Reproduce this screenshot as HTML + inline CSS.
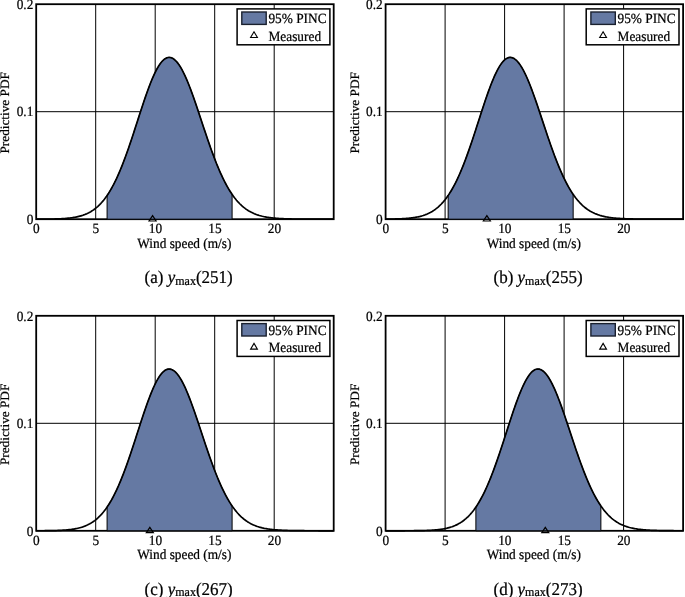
<!DOCTYPE html>
<html><head><meta charset="utf-8"><title>Predictive PDF</title>
<style>html,body{margin:0;padding:0;background:#fff;}body{width:685px;height:597px;overflow:hidden;}svg{display:block;will-change:transform;}text{font-family:"Liberation Serif",serif;fill:#000;text-rendering:geometricPrecision;}</style>
</head><body>
<svg width="685" height="597" viewBox="0 0 685 597">
<rect x="0" y="0" width="685" height="597" fill="#fff"/>
<g>
<line x1="95.70" y1="4.20" x2="95.70" y2="219.20" stroke="#000" stroke-width="1"/>
<line x1="155.20" y1="4.20" x2="155.20" y2="219.20" stroke="#000" stroke-width="1"/>
<line x1="214.70" y1="4.20" x2="214.70" y2="219.20" stroke="#000" stroke-width="1"/>
<line x1="274.20" y1="4.20" x2="274.20" y2="219.20" stroke="#000" stroke-width="1"/>
<line x1="36.20" y1="111.70" x2="333.70" y2="111.70" stroke="#000" stroke-width="1"/>
<rect x="36.20" y="4.20" width="297.50" height="215.00" fill="none" stroke="#000" stroke-width="1.8"/>
<path d="M107.08 219.20 L107.08 195.50 L108.12 193.93 L109.16 192.29 L110.21 190.58 L111.25 188.79 L112.29 186.92 L113.33 184.97 L114.37 182.95 L115.42 180.84 L116.46 178.66 L117.50 176.41 L118.54 174.07 L119.58 171.66 L120.62 169.17 L121.67 166.61 L122.71 163.98 L123.75 161.29 L124.79 158.52 L125.83 155.69 L126.88 152.81 L127.92 149.86 L128.96 146.87 L130.00 143.82 L131.04 140.73 L132.08 137.61 L133.13 134.45 L134.17 131.27 L135.21 128.06 L136.25 124.84 L137.29 121.61 L138.34 118.39 L139.38 115.16 L140.42 111.95 L141.46 108.76 L142.50 105.60 L143.54 102.48 L144.59 99.40 L145.63 96.37 L146.67 93.40 L147.71 90.50 L148.75 87.67 L149.80 84.93 L150.84 82.28 L151.88 79.72 L152.92 77.28 L153.96 74.94 L155.00 72.73 L156.05 70.65 L157.09 68.69 L158.13 66.88 L159.17 65.21 L160.21 63.70 L161.26 62.33 L162.30 61.13 L163.34 60.09 L164.38 59.22 L165.42 58.51 L166.46 57.98 L167.51 57.62 L168.55 57.44 L169.59 57.43 L170.63 57.59 L171.67 57.91 L172.71 58.41 L173.76 59.06 L174.80 59.88 L175.84 60.86 L176.88 61.99 L177.92 63.28 L178.97 64.72 L180.01 66.30 L181.05 68.03 L182.09 69.88 L183.13 71.87 L184.17 73.98 L185.22 76.21 L186.26 78.55 L187.30 81.00 L188.34 83.54 L189.38 86.17 L190.43 88.89 L191.47 91.68 L192.51 94.54 L193.55 97.46 L194.59 100.44 L195.63 103.46 L196.68 106.52 L197.72 109.61 L198.76 112.73 L199.80 115.86 L200.84 119.01 L201.89 122.15 L202.93 125.30 L203.97 128.44 L205.01 131.56 L206.05 134.66 L207.09 137.73 L208.14 140.77 L209.18 143.77 L210.22 146.73 L211.26 149.65 L212.30 152.51 L213.35 155.33 L214.39 158.08 L215.43 160.78 L216.47 163.41 L217.51 165.97 L218.55 168.47 L219.60 170.90 L220.64 173.26 L221.68 175.55 L222.72 177.76 L223.76 179.90 L224.81 181.97 L225.85 183.96 L226.89 185.88 L227.93 187.72 L228.97 189.49 L230.01 191.19 L231.06 192.82 L232.10 194.37 L232.10 219.20 Z" fill="#6579a3" stroke="#000" stroke-width="1" stroke-linejoin="round"/>
<path d="M36.20 219.18 L37.19 219.17 L38.18 219.17 L39.18 219.16 L40.17 219.16 L41.16 219.15 L42.15 219.15 L43.14 219.14 L44.13 219.13 L45.12 219.12 L46.12 219.11 L47.11 219.10 L48.10 219.09 L49.09 219.08 L50.08 219.06 L51.08 219.05 L52.07 219.03 L53.06 219.01 L54.05 218.98 L55.04 218.96 L56.03 218.93 L57.03 218.89 L58.02 218.86 L59.01 218.82 L60.00 218.78 L60.99 218.73 L61.98 218.67 L62.98 218.62 L63.97 218.55 L64.96 218.48 L65.95 218.40 L66.94 218.32 L67.93 218.22 L68.93 218.12 L69.92 218.01 L70.91 217.89 L71.90 217.75 L72.89 217.61 L73.88 217.45 L74.88 217.28 L75.87 217.09 L76.86 216.89 L77.85 216.67 L78.84 216.43 L79.83 216.17 L80.83 215.89 L81.82 215.59 L82.81 215.27 L83.80 214.92 L84.79 214.55 L85.78 214.14 L86.78 213.71 L87.77 213.25 L88.76 212.75 L89.75 212.22 L90.74 211.66 L91.73 211.05 L92.72 210.41 L93.72 209.72 L94.71 208.99 L95.70 208.22 L96.69 207.40 L97.68 206.53 L98.67 205.60 L99.67 204.63 L100.66 203.60 L101.65 202.52 L102.64 201.37 L103.63 200.17 L104.62 198.90 L105.62 197.58 L106.61 196.19 L107.60 194.73 L108.59 193.21 L109.58 191.61 L110.58 189.95 L111.57 188.22 L112.56 186.43 L113.55 184.56 L114.54 182.61 L115.53 180.60 L116.53 178.52 L117.52 176.37 L118.51 174.14 L119.50 171.85 L120.49 169.49 L121.48 167.07 L122.47 164.58 L123.47 162.03 L124.46 159.41 L125.45 156.74 L126.44 154.01 L127.43 151.24 L128.43 148.41 L129.42 145.53 L130.41 142.62 L131.40 139.67 L132.39 136.68 L133.38 133.67 L134.38 130.63 L135.37 127.58 L136.36 124.51 L137.35 121.44 L138.34 118.37 L139.33 115.30 L140.32 112.24 L141.32 109.20 L142.31 106.19 L143.30 103.21 L144.29 100.26 L145.28 97.36 L146.28 94.52 L147.27 91.73 L148.26 89.00 L149.25 86.35 L150.24 83.78 L151.23 81.29 L152.23 78.90 L153.22 76.60 L154.21 74.41 L155.20 72.33 L156.19 70.36 L157.18 68.52 L158.18 66.81 L159.17 65.22 L160.16 63.77 L161.15 62.46 L162.14 61.30 L163.13 60.28 L164.12 59.42 L165.12 58.70 L166.11 58.14 L167.10 57.74 L168.09 57.50 L169.08 57.41 L170.07 57.48 L171.07 57.70 L172.06 58.08 L173.05 58.60 L174.04 59.27 L175.03 60.09 L176.02 61.05 L177.02 62.15 L178.01 63.39 L179.00 64.77 L179.99 66.28 L180.98 67.91 L181.98 69.67 L182.97 71.55 L183.96 73.53 L184.95 75.63 L185.94 77.83 L186.93 80.12 L187.93 82.51 L188.92 84.98 L189.91 87.53 L190.90 90.15 L191.89 92.84 L192.88 95.58 L193.88 98.38 L194.87 101.23 L195.86 104.11 L196.85 107.03 L197.84 109.98 L198.83 112.95 L199.82 115.93 L200.82 118.93 L201.81 121.92 L202.80 124.92 L203.79 127.90 L204.78 130.88 L205.77 133.83 L206.77 136.76 L207.76 139.67 L208.75 142.54 L209.74 145.38 L210.73 148.18 L211.72 150.93 L212.72 153.64 L213.71 156.29 L214.70 158.90 L215.69 161.45 L216.68 163.94 L217.68 166.37 L218.67 168.74 L219.66 171.05 L220.65 173.29 L221.64 175.47 L222.63 177.58 L223.62 179.62 L224.62 181.60 L225.61 183.51 L226.60 185.35 L227.59 187.13 L228.58 188.84 L229.57 190.48 L230.57 192.06 L231.56 193.57 L232.55 195.02 L233.54 196.41 L234.53 197.74 L235.53 199.00 L236.52 200.21 L237.51 201.36 L238.50 202.45 L239.49 203.49 L240.48 204.48 L241.47 205.42 L242.47 206.30 L243.46 207.14 L244.45 207.94 L245.44 208.69 L246.43 209.39 L247.43 210.06 L248.42 210.69 L249.41 211.28 L250.40 211.83 L251.39 212.36 L252.38 212.84 L253.38 213.30 L254.37 213.73 L255.36 214.13 L256.35 214.51 L257.34 214.86 L258.33 215.18 L259.32 215.49 L260.32 215.77 L261.31 216.03 L262.30 216.28 L263.29 216.50 L264.28 216.72 L265.28 216.91 L266.27 217.09 L267.26 217.26 L268.25 217.42 L269.24 217.56 L270.23 217.69 L271.23 217.81 L272.22 217.93 L273.21 218.03 L274.20 218.13 L275.19 218.22 L276.18 218.30 L277.18 218.37 L278.17 218.44 L279.16 218.50 L280.15 218.56 L281.14 218.61 L282.13 218.66 L283.12 218.71 L284.12 218.75 L285.11 218.79 L286.10 218.82 L287.09 218.85 L288.08 218.88 L289.07 218.91 L290.07 218.93 L291.06 218.95 L292.05 218.98 L293.04 218.99 L294.03 219.01 L295.02 219.03 L296.02 219.04 L297.01 219.05 L298.00 219.07 L298.99 219.08 L299.98 219.09 L300.97 219.10 L301.97 219.10 L302.96 219.11 L303.95 219.12 L304.94 219.13 L305.93 219.13 L306.93 219.14 L307.92 219.14 L308.91 219.15 L309.90 219.15 L310.89 219.16 L311.88 219.16 L312.88 219.16 L313.87 219.16 L314.86 219.17 L315.85 219.17 L316.84 219.17 L317.83 219.17 L318.82 219.18 L319.82 219.18 L320.81 219.18 L321.80 219.18 L322.79 219.18 L323.78 219.18 L324.77 219.19 L325.77 219.19 L326.76 219.19 L327.75 219.19 L328.74 219.19 L329.73 219.19 L330.72 219.19 L331.72 219.19 L332.71 219.19 L333.70 219.19" fill="none" stroke="#000" stroke-width="1.7" stroke-linejoin="round"/>
<path d="M152.58 215.70 L156.08 221.00 L149.08 221.00 Z" fill="none" stroke="#000" stroke-width="1.2"/>
<text transform="translate(33.30 8.90) scale(1.025 1.085)" font-size="13" text-anchor="end" stroke="#000" stroke-width="0.22">0.2</text>
<text transform="translate(33.30 116.40) scale(1.025 1.085)" font-size="13" text-anchor="end" stroke="#000" stroke-width="0.22">0.1</text>
<text transform="translate(33.30 223.90) scale(1.025 1.085)" font-size="13" text-anchor="end" stroke="#000" stroke-width="0.22">0</text>
<text transform="translate(36.40 233.00) scale(1.025 1.085)" font-size="13" text-anchor="middle" stroke="#000" stroke-width="0.22">0</text>
<text transform="translate(95.90 233.00) scale(1.025 1.085)" font-size="13" text-anchor="middle" stroke="#000" stroke-width="0.22">5</text>
<text transform="translate(155.40 233.00) scale(1.025 1.085)" font-size="13" text-anchor="middle" stroke="#000" stroke-width="0.22">10</text>
<text transform="translate(214.90 233.00) scale(1.025 1.085)" font-size="13" text-anchor="middle" stroke="#000" stroke-width="0.22">15</text>
<text transform="translate(274.40 233.00) scale(1.025 1.085)" font-size="13" text-anchor="middle" stroke="#000" stroke-width="0.22">20</text>
<text transform="translate(184.35 247.70) scale(1.025 1.085)" font-size="13" text-anchor="middle" stroke="#000" stroke-width="0.22">Wind speed (m/s)</text>
<text transform="translate(9.30 112.80) rotate(-90) scale(1.02 0.99)" font-size="13" text-anchor="middle" stroke="#000" stroke-width="0.22">Predictive PDF</text>
<rect x="237.10" y="8.90" width="92.8" height="35.9" fill="#fff" stroke="#000" stroke-width="1.5"/>
<rect x="241.80" y="12.00" width="24.4" height="12.4" fill="#6579a3" stroke="#1a202e" stroke-width="1.4"/>
<text transform="translate(268.40 23.40) scale(1.025 1.085)" font-size="13" text-anchor="start" stroke="#000" stroke-width="0.22">95% PINC</text>
<path d="M254.00 31.80 L257.40 37.50 L250.60 37.50 Z" fill="#fff" stroke="#000" stroke-width="1.1"/>
<text transform="translate(268.50 40.60) scale(1.025 1.085)" font-size="13" text-anchor="start" stroke="#000" stroke-width="0.22">Measured</text>
<text transform="translate(188.65 283.10) scale(1.0 1.06)" font-size="17" text-anchor="middle" stroke="#000" stroke-width="0.22">(a) <tspan font-style="italic">y</tspan><tspan font-size="12" dy="1.5">max</tspan><tspan dy="-1.5">(251)</tspan></text>
</g>
<g>
<line x1="445.10" y1="4.20" x2="445.10" y2="219.20" stroke="#000" stroke-width="1"/>
<line x1="504.60" y1="4.20" x2="504.60" y2="219.20" stroke="#000" stroke-width="1"/>
<line x1="564.10" y1="4.20" x2="564.10" y2="219.20" stroke="#000" stroke-width="1"/>
<line x1="623.60" y1="4.20" x2="623.60" y2="219.20" stroke="#000" stroke-width="1"/>
<line x1="385.60" y1="111.70" x2="683.10" y2="111.70" stroke="#000" stroke-width="1"/>
<rect x="385.60" y="4.20" width="297.50" height="215.00" fill="none" stroke="#000" stroke-width="1.8"/>
<path d="M448.15 219.20 L448.15 195.50 L449.19 193.93 L450.23 192.29 L451.28 190.58 L452.32 188.79 L453.36 186.92 L454.40 184.97 L455.44 182.95 L456.49 180.84 L457.53 178.66 L458.57 176.41 L459.61 174.07 L460.65 171.66 L461.69 169.17 L462.74 166.61 L463.78 163.98 L464.82 161.29 L465.86 158.52 L466.90 155.69 L467.95 152.81 L468.99 149.86 L470.03 146.87 L471.07 143.82 L472.11 140.73 L473.15 137.61 L474.20 134.45 L475.24 131.27 L476.28 128.06 L477.32 124.84 L478.36 121.61 L479.41 118.39 L480.45 115.16 L481.49 111.95 L482.53 108.76 L483.57 105.60 L484.61 102.48 L485.66 99.40 L486.70 96.37 L487.74 93.40 L488.78 90.50 L489.82 87.67 L490.87 84.93 L491.91 82.28 L492.95 79.72 L493.99 77.28 L495.03 74.94 L496.07 72.73 L497.12 70.65 L498.16 68.69 L499.20 66.88 L500.24 65.21 L501.28 63.70 L502.33 62.33 L503.37 61.13 L504.41 60.09 L505.45 59.22 L506.49 58.51 L507.53 57.98 L508.58 57.62 L509.62 57.44 L510.66 57.43 L511.70 57.59 L512.74 57.91 L513.78 58.41 L514.83 59.06 L515.87 59.88 L516.91 60.86 L517.95 61.99 L518.99 63.28 L520.04 64.72 L521.08 66.30 L522.12 68.03 L523.16 69.88 L524.20 71.87 L525.24 73.98 L526.29 76.21 L527.33 78.55 L528.37 81.00 L529.41 83.54 L530.45 86.17 L531.50 88.89 L532.54 91.68 L533.58 94.54 L534.62 97.46 L535.66 100.44 L536.70 103.46 L537.75 106.52 L538.79 109.61 L539.83 112.73 L540.87 115.86 L541.91 119.01 L542.96 122.15 L544.00 125.30 L545.04 128.44 L546.08 131.56 L547.12 134.66 L548.16 137.73 L549.21 140.77 L550.25 143.77 L551.29 146.73 L552.33 149.65 L553.37 152.51 L554.42 155.33 L555.46 158.08 L556.50 160.78 L557.54 163.41 L558.58 165.97 L559.62 168.47 L560.67 170.90 L561.71 173.26 L562.75 175.55 L563.79 177.76 L564.83 179.90 L565.88 181.97 L566.92 183.96 L567.96 185.88 L569.00 187.72 L570.04 189.49 L571.08 191.19 L572.13 192.82 L573.17 194.37 L573.17 219.20 Z" fill="#6579a3" stroke="#000" stroke-width="1" stroke-linejoin="round"/>
<path d="M385.60 219.13 L386.59 219.12 L387.58 219.11 L388.58 219.10 L389.57 219.09 L390.56 219.07 L391.55 219.06 L392.54 219.04 L393.53 219.02 L394.53 219.00 L395.52 218.97 L396.51 218.94 L397.50 218.91 L398.49 218.88 L399.48 218.84 L400.48 218.80 L401.47 218.76 L402.46 218.71 L403.45 218.65 L404.44 218.59 L405.43 218.52 L406.43 218.45 L407.42 218.37 L408.41 218.28 L409.40 218.18 L410.39 218.08 L411.38 217.96 L412.38 217.83 L413.37 217.70 L414.36 217.55 L415.35 217.38 L416.34 217.20 L417.33 217.01 L418.33 216.80 L419.32 216.57 L420.31 216.33 L421.30 216.06 L422.29 215.78 L423.28 215.47 L424.28 215.13 L425.27 214.78 L426.26 214.39 L427.25 213.98 L428.24 213.53 L429.23 213.06 L430.23 212.55 L431.22 212.00 L432.21 211.42 L433.20 210.80 L434.19 210.14 L435.18 209.44 L436.18 208.69 L437.17 207.90 L438.16 207.06 L439.15 206.16 L440.14 205.22 L441.13 204.23 L442.12 203.17 L443.12 202.07 L444.11 200.90 L445.10 199.67 L446.09 198.38 L447.08 197.03 L448.08 195.61 L449.07 194.13 L450.06 192.58 L451.05 190.96 L452.04 189.27 L453.03 187.51 L454.03 185.69 L455.02 183.79 L456.01 181.82 L457.00 179.78 L457.99 177.67 L458.98 175.49 L459.98 173.24 L460.97 170.92 L461.96 168.53 L462.95 166.08 L463.94 163.57 L464.93 160.99 L465.93 158.35 L466.92 155.66 L467.91 152.91 L468.90 150.11 L469.89 147.26 L470.88 144.37 L471.88 141.44 L472.87 138.48 L473.86 135.48 L474.85 132.46 L475.84 129.41 L476.83 126.35 L477.83 123.28 L478.82 120.21 L479.81 117.14 L480.80 114.07 L481.79 111.02 L482.78 107.99 L483.78 104.99 L484.77 102.02 L485.76 99.10 L486.75 96.22 L487.74 93.39 L488.73 90.63 L489.73 87.93 L490.72 85.31 L491.71 82.77 L492.70 80.32 L493.69 77.97 L494.68 75.71 L495.68 73.56 L496.67 71.53 L497.66 69.61 L498.65 67.82 L499.64 66.16 L500.63 64.62 L501.62 63.23 L502.62 61.98 L503.61 60.88 L504.60 59.92 L505.59 59.11 L506.58 58.46 L507.58 57.96 L508.57 57.63 L509.56 57.45 L510.55 57.42 L511.54 57.55 L512.53 57.83 L513.52 58.27 L514.52 58.85 L515.51 59.58 L516.50 60.45 L517.49 61.47 L518.48 62.63 L519.48 63.93 L520.47 65.36 L521.46 66.92 L522.45 68.60 L523.44 70.41 L524.43 72.33 L525.42 74.36 L526.42 76.50 L527.41 78.74 L528.40 81.07 L529.39 83.49 L530.38 85.99 L531.38 88.57 L532.37 91.22 L533.36 93.93 L534.35 96.70 L535.34 99.52 L536.33 102.38 L537.33 105.28 L538.32 108.21 L539.31 111.17 L540.30 114.14 L541.29 117.13 L542.28 120.12 L543.28 123.12 L544.27 126.11 L545.26 129.09 L546.25 132.06 L547.24 135.01 L548.23 137.93 L549.23 140.82 L550.22 143.68 L551.21 146.50 L552.20 149.28 L553.19 152.02 L554.18 154.71 L555.17 157.34 L556.17 159.92 L557.16 162.45 L558.15 164.92 L559.14 167.32 L560.13 169.67 L561.12 171.95 L562.12 174.17 L563.11 176.32 L564.10 178.40 L565.09 180.42 L566.08 182.37 L567.08 184.26 L568.07 186.07 L569.06 187.82 L570.05 189.50 L571.04 191.12 L572.03 192.67 L573.03 194.16 L574.02 195.59 L575.01 196.95 L576.00 198.25 L576.99 199.49 L577.98 200.68 L578.98 201.80 L579.97 202.88 L580.96 203.89 L581.95 204.86 L582.94 205.78 L583.93 206.65 L584.93 207.47 L585.92 208.24 L586.91 208.98 L587.90 209.67 L588.89 210.32 L589.88 210.93 L590.88 211.51 L591.87 212.05 L592.86 212.56 L593.85 213.03 L594.84 213.48 L595.83 213.89 L596.83 214.28 L597.82 214.65 L598.81 214.99 L599.80 215.31 L600.79 215.60 L601.78 215.88 L602.77 216.13 L603.77 216.37 L604.76 216.59 L605.75 216.80 L606.74 216.99 L607.73 217.16 L608.73 217.32 L609.72 217.47 L610.71 217.61 L611.70 217.74 L612.69 217.86 L613.68 217.97 L614.68 218.07 L615.67 218.16 L616.66 218.25 L617.65 218.33 L618.64 218.40 L619.63 218.47 L620.62 218.53 L621.62 218.58 L622.61 218.63 L623.60 218.68 L624.59 218.72 L625.58 218.76 L626.58 218.80 L627.57 218.83 L628.56 218.86 L629.55 218.89 L630.54 218.92 L631.53 218.94 L632.52 218.96 L633.52 218.98 L634.51 219.00 L635.50 219.02 L636.49 219.03 L637.48 219.05 L638.48 219.06 L639.47 219.07 L640.46 219.08 L641.45 219.09 L642.44 219.10 L643.43 219.11 L644.42 219.12 L645.42 219.12 L646.41 219.13 L647.40 219.13 L648.39 219.14 L649.38 219.14 L650.38 219.15 L651.37 219.15 L652.36 219.16 L653.35 219.16 L654.34 219.16 L655.33 219.17 L656.33 219.17 L657.32 219.17 L658.31 219.17 L659.30 219.18 L660.29 219.18 L661.28 219.18 L662.28 219.18 L663.27 219.18 L664.26 219.18 L665.25 219.19 L666.24 219.19 L667.23 219.19 L668.23 219.19 L669.22 219.19 L670.21 219.19 L671.20 219.19 L672.19 219.19 L673.18 219.19 L674.17 219.19 L675.17 219.19 L676.16 219.19 L677.15 219.19 L678.14 219.19 L679.13 219.20 L680.12 219.20 L681.12 219.20 L682.11 219.20 L683.10 219.20" fill="none" stroke="#000" stroke-width="1.7" stroke-linejoin="round"/>
<path d="M486.87 215.70 L490.37 221.00 L483.37 221.00 Z" fill="none" stroke="#000" stroke-width="1.2"/>
<text transform="translate(382.70 8.90) scale(1.025 1.085)" font-size="13" text-anchor="end" stroke="#000" stroke-width="0.22">0.2</text>
<text transform="translate(382.70 116.40) scale(1.025 1.085)" font-size="13" text-anchor="end" stroke="#000" stroke-width="0.22">0.1</text>
<text transform="translate(382.70 223.90) scale(1.025 1.085)" font-size="13" text-anchor="end" stroke="#000" stroke-width="0.22">0</text>
<text transform="translate(385.80 233.00) scale(1.025 1.085)" font-size="13" text-anchor="middle" stroke="#000" stroke-width="0.22">0</text>
<text transform="translate(445.30 233.00) scale(1.025 1.085)" font-size="13" text-anchor="middle" stroke="#000" stroke-width="0.22">5</text>
<text transform="translate(504.80 233.00) scale(1.025 1.085)" font-size="13" text-anchor="middle" stroke="#000" stroke-width="0.22">10</text>
<text transform="translate(564.30 233.00) scale(1.025 1.085)" font-size="13" text-anchor="middle" stroke="#000" stroke-width="0.22">15</text>
<text transform="translate(623.80 233.00) scale(1.025 1.085)" font-size="13" text-anchor="middle" stroke="#000" stroke-width="0.22">20</text>
<text transform="translate(533.75 247.70) scale(1.025 1.085)" font-size="13" text-anchor="middle" stroke="#000" stroke-width="0.22">Wind speed (m/s)</text>
<text transform="translate(359.00 112.80) rotate(-90) scale(1.02 0.99)" font-size="13" text-anchor="middle" stroke="#000" stroke-width="0.22">Predictive PDF</text>
<rect x="586.20" y="8.90" width="92.8" height="35.9" fill="#fff" stroke="#000" stroke-width="1.5"/>
<rect x="590.90" y="12.00" width="24.4" height="12.4" fill="#6579a3" stroke="#1a202e" stroke-width="1.4"/>
<text transform="translate(617.50 23.40) scale(1.025 1.085)" font-size="13" text-anchor="start" stroke="#000" stroke-width="0.22">95% PINC</text>
<path d="M603.10 31.80 L606.50 37.50 L599.70 37.50 Z" fill="#fff" stroke="#000" stroke-width="1.1"/>
<text transform="translate(617.60 40.60) scale(1.025 1.085)" font-size="13" text-anchor="start" stroke="#000" stroke-width="0.22">Measured</text>
<text transform="translate(538.05 283.10) scale(1.0 1.06)" font-size="17" text-anchor="middle" stroke="#000" stroke-width="0.22">(b) <tspan font-style="italic">y</tspan><tspan font-size="12" dy="1.5">max</tspan><tspan dy="-1.5">(255)</tspan></text>
</g>
<g>
<line x1="95.70" y1="315.80" x2="95.70" y2="530.80" stroke="#000" stroke-width="1"/>
<line x1="155.20" y1="315.80" x2="155.20" y2="530.80" stroke="#000" stroke-width="1"/>
<line x1="214.70" y1="315.80" x2="214.70" y2="530.80" stroke="#000" stroke-width="1"/>
<line x1="274.20" y1="315.80" x2="274.20" y2="530.80" stroke="#000" stroke-width="1"/>
<line x1="36.20" y1="423.30" x2="333.70" y2="423.30" stroke="#000" stroke-width="1"/>
<rect x="36.20" y="315.80" width="297.50" height="215.00" fill="none" stroke="#000" stroke-width="1.8"/>
<path d="M107.08 530.80 L107.08 507.10 L108.12 505.53 L109.16 503.89 L110.21 502.18 L111.25 500.39 L112.29 498.52 L113.33 496.57 L114.37 494.55 L115.42 492.44 L116.46 490.26 L117.50 488.01 L118.54 485.67 L119.58 483.26 L120.62 480.77 L121.67 478.21 L122.71 475.58 L123.75 472.89 L124.79 470.12 L125.83 467.29 L126.88 464.41 L127.92 461.46 L128.96 458.47 L130.00 455.42 L131.04 452.33 L132.08 449.21 L133.13 446.05 L134.17 442.87 L135.21 439.66 L136.25 436.44 L137.29 433.21 L138.34 429.99 L139.38 426.76 L140.42 423.55 L141.46 420.36 L142.50 417.20 L143.54 414.08 L144.59 411.00 L145.63 407.97 L146.67 405.00 L147.71 402.10 L148.75 399.27 L149.80 396.53 L150.84 393.88 L151.88 391.32 L152.92 388.88 L153.96 386.54 L155.00 384.33 L156.05 382.25 L157.09 380.29 L158.13 378.48 L159.17 376.81 L160.21 375.30 L161.26 373.93 L162.30 372.73 L163.34 371.69 L164.38 370.82 L165.42 370.11 L166.46 369.58 L167.51 369.22 L168.55 369.04 L169.59 369.03 L170.63 369.19 L171.67 369.51 L172.71 370.01 L173.76 370.66 L174.80 371.48 L175.84 372.46 L176.88 373.59 L177.92 374.88 L178.97 376.32 L180.01 377.90 L181.05 379.63 L182.09 381.48 L183.13 383.47 L184.17 385.58 L185.22 387.81 L186.26 390.15 L187.30 392.60 L188.34 395.14 L189.38 397.77 L190.43 400.49 L191.47 403.28 L192.51 406.14 L193.55 409.06 L194.59 412.04 L195.63 415.06 L196.68 418.12 L197.72 421.21 L198.76 424.33 L199.80 427.46 L200.84 430.61 L201.89 433.75 L202.93 436.90 L203.97 440.04 L205.01 443.16 L206.05 446.26 L207.09 449.33 L208.14 452.37 L209.18 455.37 L210.22 458.33 L211.26 461.25 L212.30 464.11 L213.35 466.93 L214.39 469.68 L215.43 472.38 L216.47 475.01 L217.51 477.57 L218.55 480.07 L219.60 482.50 L220.64 484.86 L221.68 487.15 L222.72 489.36 L223.76 491.50 L224.81 493.57 L225.85 495.56 L226.89 497.48 L227.93 499.32 L228.97 501.09 L230.01 502.79 L231.06 504.42 L232.10 505.97 L232.10 530.80 Z" fill="#6579a3" stroke="#000" stroke-width="1" stroke-linejoin="round"/>
<path d="M36.20 530.78 L37.19 530.77 L38.18 530.77 L39.18 530.76 L40.17 530.76 L41.16 530.75 L42.15 530.75 L43.14 530.74 L44.13 530.73 L45.12 530.72 L46.12 530.71 L47.11 530.70 L48.10 530.69 L49.09 530.68 L50.08 530.66 L51.08 530.65 L52.07 530.63 L53.06 530.61 L54.05 530.58 L55.04 530.56 L56.03 530.53 L57.03 530.49 L58.02 530.46 L59.01 530.42 L60.00 530.38 L60.99 530.33 L61.98 530.27 L62.98 530.22 L63.97 530.15 L64.96 530.08 L65.95 530.00 L66.94 529.92 L67.93 529.82 L68.93 529.72 L69.92 529.61 L70.91 529.49 L71.90 529.35 L72.89 529.21 L73.88 529.05 L74.88 528.88 L75.87 528.69 L76.86 528.49 L77.85 528.27 L78.84 528.03 L79.83 527.77 L80.83 527.49 L81.82 527.19 L82.81 526.87 L83.80 526.52 L84.79 526.15 L85.78 525.74 L86.78 525.31 L87.77 524.85 L88.76 524.35 L89.75 523.82 L90.74 523.26 L91.73 522.65 L92.72 522.01 L93.72 521.32 L94.71 520.59 L95.70 519.82 L96.69 519.00 L97.68 518.13 L98.67 517.20 L99.67 516.23 L100.66 515.20 L101.65 514.12 L102.64 512.97 L103.63 511.77 L104.62 510.50 L105.62 509.18 L106.61 507.79 L107.60 506.33 L108.59 504.81 L109.58 503.21 L110.58 501.55 L111.57 499.82 L112.56 498.03 L113.55 496.16 L114.54 494.21 L115.53 492.20 L116.53 490.12 L117.52 487.97 L118.51 485.74 L119.50 483.45 L120.49 481.09 L121.48 478.67 L122.47 476.18 L123.47 473.63 L124.46 471.01 L125.45 468.34 L126.44 465.61 L127.43 462.84 L128.43 460.01 L129.42 457.13 L130.41 454.22 L131.40 451.27 L132.39 448.28 L133.38 445.27 L134.38 442.23 L135.37 439.18 L136.36 436.11 L137.35 433.04 L138.34 429.97 L139.33 426.90 L140.32 423.84 L141.32 420.80 L142.31 417.79 L143.30 414.81 L144.29 411.86 L145.28 408.96 L146.28 406.12 L147.27 403.33 L148.26 400.60 L149.25 397.95 L150.24 395.38 L151.23 392.89 L152.23 390.50 L153.22 388.20 L154.21 386.01 L155.20 383.93 L156.19 381.96 L157.18 380.12 L158.18 378.41 L159.17 376.82 L160.16 375.37 L161.15 374.06 L162.14 372.90 L163.13 371.88 L164.12 371.02 L165.12 370.30 L166.11 369.74 L167.10 369.34 L168.09 369.10 L169.08 369.01 L170.07 369.08 L171.07 369.30 L172.06 369.68 L173.05 370.20 L174.04 370.87 L175.03 371.69 L176.02 372.65 L177.02 373.75 L178.01 374.99 L179.00 376.37 L179.99 377.88 L180.98 379.51 L181.98 381.27 L182.97 383.15 L183.96 385.13 L184.95 387.23 L185.94 389.43 L186.93 391.72 L187.93 394.11 L188.92 396.58 L189.91 399.13 L190.90 401.75 L191.89 404.44 L192.88 407.18 L193.88 409.98 L194.87 412.83 L195.86 415.71 L196.85 418.63 L197.84 421.58 L198.83 424.55 L199.82 427.53 L200.82 430.53 L201.81 433.52 L202.80 436.52 L203.79 439.50 L204.78 442.48 L205.77 445.43 L206.77 448.36 L207.76 451.27 L208.75 454.14 L209.74 456.98 L210.73 459.78 L211.72 462.53 L212.72 465.24 L213.71 467.89 L214.70 470.50 L215.69 473.05 L216.68 475.54 L217.68 477.97 L218.67 480.34 L219.66 482.65 L220.65 484.89 L221.64 487.07 L222.63 489.18 L223.62 491.22 L224.62 493.20 L225.61 495.11 L226.60 496.95 L227.59 498.73 L228.58 500.44 L229.57 502.08 L230.57 503.66 L231.56 505.17 L232.55 506.62 L233.54 508.01 L234.53 509.34 L235.53 510.60 L236.52 511.81 L237.51 512.96 L238.50 514.05 L239.49 515.09 L240.48 516.08 L241.47 517.02 L242.47 517.90 L243.46 518.74 L244.45 519.54 L245.44 520.29 L246.43 520.99 L247.43 521.66 L248.42 522.29 L249.41 522.88 L250.40 523.43 L251.39 523.96 L252.38 524.44 L253.38 524.90 L254.37 525.33 L255.36 525.73 L256.35 526.11 L257.34 526.46 L258.33 526.78 L259.32 527.09 L260.32 527.37 L261.31 527.63 L262.30 527.88 L263.29 528.10 L264.28 528.32 L265.28 528.51 L266.27 528.69 L267.26 528.86 L268.25 529.02 L269.24 529.16 L270.23 529.29 L271.23 529.41 L272.22 529.53 L273.21 529.63 L274.20 529.73 L275.19 529.82 L276.18 529.90 L277.18 529.97 L278.17 530.04 L279.16 530.10 L280.15 530.16 L281.14 530.21 L282.13 530.26 L283.12 530.31 L284.12 530.35 L285.11 530.39 L286.10 530.42 L287.09 530.45 L288.08 530.48 L289.07 530.51 L290.07 530.53 L291.06 530.55 L292.05 530.58 L293.04 530.59 L294.03 530.61 L295.02 530.63 L296.02 530.64 L297.01 530.65 L298.00 530.67 L298.99 530.68 L299.98 530.69 L300.97 530.70 L301.97 530.70 L302.96 530.71 L303.95 530.72 L304.94 530.73 L305.93 530.73 L306.93 530.74 L307.92 530.74 L308.91 530.75 L309.90 530.75 L310.89 530.76 L311.88 530.76 L312.88 530.76 L313.87 530.76 L314.86 530.77 L315.85 530.77 L316.84 530.77 L317.83 530.77 L318.82 530.78 L319.82 530.78 L320.81 530.78 L321.80 530.78 L322.79 530.78 L323.78 530.78 L324.77 530.79 L325.77 530.79 L326.76 530.79 L327.75 530.79 L328.74 530.79 L329.73 530.79 L330.72 530.79 L331.72 530.79 L332.71 530.79 L333.70 530.79" fill="none" stroke="#000" stroke-width="1.7" stroke-linejoin="round"/>
<path d="M149.84 527.30 L153.34 532.60 L146.34 532.60 Z" fill="none" stroke="#000" stroke-width="1.2"/>
<text transform="translate(33.30 320.50) scale(1.025 1.085)" font-size="13" text-anchor="end" stroke="#000" stroke-width="0.22">0.2</text>
<text transform="translate(33.30 428.00) scale(1.025 1.085)" font-size="13" text-anchor="end" stroke="#000" stroke-width="0.22">0.1</text>
<text transform="translate(33.30 535.50) scale(1.025 1.085)" font-size="13" text-anchor="end" stroke="#000" stroke-width="0.22">0</text>
<text transform="translate(36.40 544.60) scale(1.025 1.085)" font-size="13" text-anchor="middle" stroke="#000" stroke-width="0.22">0</text>
<text transform="translate(95.90 544.60) scale(1.025 1.085)" font-size="13" text-anchor="middle" stroke="#000" stroke-width="0.22">5</text>
<text transform="translate(155.40 544.60) scale(1.025 1.085)" font-size="13" text-anchor="middle" stroke="#000" stroke-width="0.22">10</text>
<text transform="translate(214.90 544.60) scale(1.025 1.085)" font-size="13" text-anchor="middle" stroke="#000" stroke-width="0.22">15</text>
<text transform="translate(274.40 544.60) scale(1.025 1.085)" font-size="13" text-anchor="middle" stroke="#000" stroke-width="0.22">20</text>
<text transform="translate(184.35 559.30) scale(1.025 1.085)" font-size="13" text-anchor="middle" stroke="#000" stroke-width="0.22">Wind speed (m/s)</text>
<text transform="translate(9.30 424.40) rotate(-90) scale(1.02 0.99)" font-size="13" text-anchor="middle" stroke="#000" stroke-width="0.22">Predictive PDF</text>
<rect x="237.10" y="320.50" width="92.8" height="35.9" fill="#fff" stroke="#000" stroke-width="1.5"/>
<rect x="241.80" y="323.60" width="24.4" height="12.4" fill="#6579a3" stroke="#1a202e" stroke-width="1.4"/>
<text transform="translate(268.40 335.00) scale(1.025 1.085)" font-size="13" text-anchor="start" stroke="#000" stroke-width="0.22">95% PINC</text>
<path d="M254.00 343.40 L257.40 349.10 L250.60 349.10 Z" fill="#fff" stroke="#000" stroke-width="1.1"/>
<text transform="translate(268.50 352.20) scale(1.025 1.085)" font-size="13" text-anchor="start" stroke="#000" stroke-width="0.22">Measured</text>
<text transform="translate(188.65 594.70) scale(1.0 1.06)" font-size="17" text-anchor="middle" stroke="#000" stroke-width="0.22">(c) <tspan font-style="italic">y</tspan><tspan font-size="12" dy="1.5">max</tspan><tspan dy="-1.5">(267)</tspan></text>
</g>
<g>
<line x1="445.10" y1="315.80" x2="445.10" y2="530.80" stroke="#000" stroke-width="1"/>
<line x1="504.60" y1="315.80" x2="504.60" y2="530.80" stroke="#000" stroke-width="1"/>
<line x1="564.10" y1="315.80" x2="564.10" y2="530.80" stroke="#000" stroke-width="1"/>
<line x1="623.60" y1="315.80" x2="623.60" y2="530.80" stroke="#000" stroke-width="1"/>
<line x1="385.60" y1="423.30" x2="683.10" y2="423.30" stroke="#000" stroke-width="1"/>
<rect x="385.60" y="315.80" width="297.50" height="215.00" fill="none" stroke="#000" stroke-width="1.8"/>
<path d="M475.88 530.80 L475.88 507.10 L476.92 505.53 L477.96 503.89 L479.00 502.18 L480.05 500.39 L481.09 498.52 L482.13 496.57 L483.17 494.55 L484.21 492.44 L485.25 490.26 L486.30 488.01 L487.34 485.67 L488.38 483.26 L489.42 480.77 L490.46 478.21 L491.51 475.58 L492.55 472.89 L493.59 470.12 L494.63 467.29 L495.67 464.41 L496.71 461.46 L497.76 458.47 L498.80 455.42 L499.84 452.33 L500.88 449.21 L501.92 446.05 L502.97 442.87 L504.01 439.66 L505.05 436.44 L506.09 433.21 L507.13 429.99 L508.17 426.76 L509.22 423.55 L510.26 420.36 L511.30 417.20 L512.34 414.08 L513.38 411.00 L514.42 407.97 L515.47 405.00 L516.51 402.10 L517.55 399.27 L518.59 396.53 L519.63 393.88 L520.68 391.32 L521.72 388.88 L522.76 386.54 L523.80 384.33 L524.84 382.25 L525.88 380.29 L526.93 378.48 L527.97 376.81 L529.01 375.30 L530.05 373.93 L531.09 372.73 L532.14 371.69 L533.18 370.82 L534.22 370.11 L535.26 369.58 L536.30 369.22 L537.34 369.04 L538.39 369.03 L539.43 369.19 L540.47 369.51 L541.51 370.01 L542.55 370.66 L543.60 371.48 L544.64 372.46 L545.68 373.59 L546.72 374.88 L547.76 376.32 L548.80 377.90 L549.85 379.63 L550.89 381.48 L551.93 383.47 L552.97 385.58 L554.01 387.81 L555.06 390.15 L556.10 392.60 L557.14 395.14 L558.18 397.77 L559.22 400.49 L560.26 403.28 L561.31 406.14 L562.35 409.06 L563.39 412.04 L564.43 415.06 L565.47 418.12 L566.52 421.21 L567.56 424.33 L568.60 427.46 L569.64 430.61 L570.68 433.75 L571.72 436.90 L572.77 440.04 L573.81 443.16 L574.85 446.26 L575.89 449.33 L576.93 452.37 L577.98 455.37 L579.02 458.33 L580.06 461.25 L581.10 464.11 L582.14 466.93 L583.18 469.68 L584.23 472.38 L585.27 475.01 L586.31 477.57 L587.35 480.07 L588.39 482.50 L589.43 484.86 L590.48 487.15 L591.52 489.36 L592.56 491.50 L593.60 493.57 L594.64 495.56 L595.69 497.48 L596.73 499.32 L597.77 501.09 L598.81 502.79 L599.85 504.42 L600.89 505.97 L600.89 530.80 Z" fill="#6579a3" stroke="#000" stroke-width="1" stroke-linejoin="round"/>
<path d="M385.60 530.80 L386.59 530.80 L387.58 530.80 L388.58 530.80 L389.57 530.80 L390.56 530.80 L391.55 530.80 L392.54 530.80 L393.53 530.80 L394.53 530.79 L395.52 530.79 L396.51 530.79 L397.50 530.79 L398.49 530.79 L399.48 530.79 L400.48 530.79 L401.47 530.79 L402.46 530.78 L403.45 530.78 L404.44 530.78 L405.43 530.77 L406.43 530.77 L407.42 530.77 L408.41 530.76 L409.40 530.76 L410.39 530.75 L411.38 530.75 L412.38 530.74 L413.37 530.73 L414.36 530.72 L415.35 530.71 L416.34 530.70 L417.33 530.69 L418.33 530.67 L419.32 530.66 L420.31 530.64 L421.30 530.62 L422.29 530.60 L423.28 530.57 L424.28 530.54 L425.27 530.51 L426.26 530.48 L427.25 530.44 L428.24 530.40 L429.23 530.35 L430.23 530.30 L431.22 530.25 L432.21 530.19 L433.20 530.12 L434.19 530.05 L435.18 529.97 L436.18 529.88 L437.17 529.78 L438.16 529.67 L439.15 529.56 L440.14 529.43 L441.13 529.29 L442.12 529.14 L443.12 528.98 L444.11 528.80 L445.10 528.60 L446.09 528.39 L447.08 528.17 L448.08 527.92 L449.07 527.65 L450.06 527.36 L451.05 527.05 L452.04 526.72 L453.03 526.36 L454.03 525.97 L455.02 525.56 L456.01 525.11 L457.00 524.64 L457.99 524.13 L458.98 523.58 L459.98 523.00 L460.97 522.37 L461.96 521.71 L462.95 521.01 L463.94 520.26 L464.93 519.46 L465.93 518.62 L466.92 517.73 L467.91 516.78 L468.90 515.78 L469.89 514.73 L470.88 513.62 L471.88 512.45 L472.87 511.22 L473.86 509.93 L474.85 508.57 L475.84 507.15 L476.83 505.67 L477.83 504.11 L478.82 502.49 L479.81 500.80 L480.80 499.04 L481.79 497.21 L482.78 495.31 L483.78 493.34 L484.77 491.29 L485.76 489.18 L486.75 487.00 L487.74 484.75 L488.73 482.42 L489.73 480.04 L490.72 477.58 L491.71 475.06 L492.70 472.48 L493.69 469.84 L494.68 467.15 L495.68 464.40 L496.67 461.60 L497.66 458.75 L498.65 455.86 L499.64 452.92 L500.63 449.96 L501.62 446.96 L502.62 443.94 L503.61 440.89 L504.60 437.83 L505.59 434.76 L506.58 431.69 L507.58 428.62 L508.57 425.55 L509.56 422.50 L510.55 419.47 L511.54 416.47 L512.53 413.51 L513.52 410.58 L514.52 407.70 L515.51 404.88 L516.50 402.12 L517.49 399.43 L518.48 396.81 L519.48 394.27 L520.47 391.83 L521.46 389.48 L522.45 387.22 L523.44 385.08 L524.43 383.05 L525.42 381.14 L526.42 379.35 L527.41 377.69 L528.40 376.17 L529.39 374.78 L530.38 373.53 L531.38 372.43 L532.37 371.48 L533.36 370.68 L534.35 370.04 L535.34 369.55 L536.33 369.22 L537.33 369.04 L538.32 369.02 L539.31 369.16 L540.30 369.45 L541.29 369.89 L542.28 370.48 L543.28 371.21 L544.27 372.09 L545.26 373.12 L546.25 374.28 L547.24 375.58 L548.23 377.02 L549.23 378.58 L550.22 380.27 L551.21 382.08 L552.20 384.01 L553.19 386.04 L554.18 388.19 L555.17 390.43 L556.17 392.76 L557.16 395.19 L558.15 397.69 L559.14 400.27 L560.13 402.92 L561.12 405.64 L562.12 408.41 L563.11 411.23 L564.10 414.09 L565.09 416.99 L566.08 419.93 L567.08 422.88 L568.07 425.86 L569.06 428.85 L570.05 431.84 L571.04 434.84 L572.03 437.83 L573.03 440.81 L574.02 443.78 L575.01 446.72 L576.00 449.65 L576.99 452.54 L577.98 455.39 L578.98 458.21 L579.97 460.99 L580.96 463.73 L581.95 466.41 L582.94 469.05 L583.93 471.63 L584.93 474.15 L585.92 476.61 L586.91 479.02 L587.90 481.36 L588.89 483.64 L589.88 485.85 L590.88 488.00 L591.87 490.09 L592.86 492.10 L593.85 494.05 L594.84 495.93 L595.83 497.74 L596.83 499.49 L597.82 501.17 L598.81 502.78 L599.80 504.33 L600.79 505.82 L601.78 507.24 L602.77 508.60 L603.77 509.90 L604.76 511.14 L605.75 512.32 L606.74 513.45 L607.73 514.52 L608.73 515.53 L609.72 516.50 L610.71 517.41 L611.70 518.28 L612.69 519.10 L613.68 519.87 L614.68 520.60 L615.67 521.29 L616.66 521.94 L617.65 522.55 L618.64 523.13 L619.63 523.67 L620.62 524.17 L621.62 524.65 L622.61 525.09 L623.60 525.51 L624.59 525.90 L625.58 526.26 L626.58 526.60 L627.57 526.92 L628.56 527.21 L629.55 527.49 L630.54 527.74 L631.53 527.98 L632.52 528.20 L633.52 528.40 L634.51 528.59 L635.50 528.77 L636.49 528.93 L637.48 529.08 L638.48 529.22 L639.47 529.35 L640.46 529.46 L641.45 529.57 L642.44 529.67 L643.43 529.77 L644.42 529.85 L645.42 529.93 L646.41 530.00 L647.40 530.07 L648.39 530.13 L649.38 530.19 L650.38 530.24 L651.37 530.28 L652.36 530.33 L653.35 530.37 L654.34 530.40 L655.33 530.44 L656.33 530.47 L657.32 530.49 L658.31 530.52 L659.30 530.54 L660.29 530.56 L661.28 530.58 L662.28 530.60 L663.27 530.62 L664.26 530.63 L665.25 530.65 L666.24 530.66 L667.23 530.67 L668.23 530.68 L669.22 530.69 L670.21 530.70 L671.20 530.71 L672.19 530.72 L673.18 530.72 L674.17 530.73 L675.17 530.73 L676.16 530.74 L677.15 530.74 L678.14 530.75 L679.13 530.75 L680.12 530.76 L681.12 530.76 L682.11 530.76 L683.10 530.77" fill="none" stroke="#000" stroke-width="1.7" stroke-linejoin="round"/>
<path d="M545.30 527.30 L548.80 532.60 L541.80 532.60 Z" fill="none" stroke="#000" stroke-width="1.2"/>
<text transform="translate(382.70 320.50) scale(1.025 1.085)" font-size="13" text-anchor="end" stroke="#000" stroke-width="0.22">0.2</text>
<text transform="translate(382.70 428.00) scale(1.025 1.085)" font-size="13" text-anchor="end" stroke="#000" stroke-width="0.22">0.1</text>
<text transform="translate(382.70 535.50) scale(1.025 1.085)" font-size="13" text-anchor="end" stroke="#000" stroke-width="0.22">0</text>
<text transform="translate(385.80 544.60) scale(1.025 1.085)" font-size="13" text-anchor="middle" stroke="#000" stroke-width="0.22">0</text>
<text transform="translate(445.30 544.60) scale(1.025 1.085)" font-size="13" text-anchor="middle" stroke="#000" stroke-width="0.22">5</text>
<text transform="translate(504.80 544.60) scale(1.025 1.085)" font-size="13" text-anchor="middle" stroke="#000" stroke-width="0.22">10</text>
<text transform="translate(564.30 544.60) scale(1.025 1.085)" font-size="13" text-anchor="middle" stroke="#000" stroke-width="0.22">15</text>
<text transform="translate(623.80 544.60) scale(1.025 1.085)" font-size="13" text-anchor="middle" stroke="#000" stroke-width="0.22">20</text>
<text transform="translate(533.75 559.30) scale(1.025 1.085)" font-size="13" text-anchor="middle" stroke="#000" stroke-width="0.22">Wind speed (m/s)</text>
<text transform="translate(359.00 424.40) rotate(-90) scale(1.02 0.99)" font-size="13" text-anchor="middle" stroke="#000" stroke-width="0.22">Predictive PDF</text>
<rect x="586.20" y="320.50" width="92.8" height="35.9" fill="#fff" stroke="#000" stroke-width="1.5"/>
<rect x="590.90" y="323.60" width="24.4" height="12.4" fill="#6579a3" stroke="#1a202e" stroke-width="1.4"/>
<text transform="translate(617.50 335.00) scale(1.025 1.085)" font-size="13" text-anchor="start" stroke="#000" stroke-width="0.22">95% PINC</text>
<path d="M603.10 343.40 L606.50 349.10 L599.70 349.10 Z" fill="#fff" stroke="#000" stroke-width="1.1"/>
<text transform="translate(617.60 352.20) scale(1.025 1.085)" font-size="13" text-anchor="start" stroke="#000" stroke-width="0.22">Measured</text>
<text transform="translate(538.05 594.70) scale(1.0 1.06)" font-size="17" text-anchor="middle" stroke="#000" stroke-width="0.22">(d) <tspan font-style="italic">y</tspan><tspan font-size="12" dy="1.5">max</tspan><tspan dy="-1.5">(273)</tspan></text>
</g>
</svg></body></html>
